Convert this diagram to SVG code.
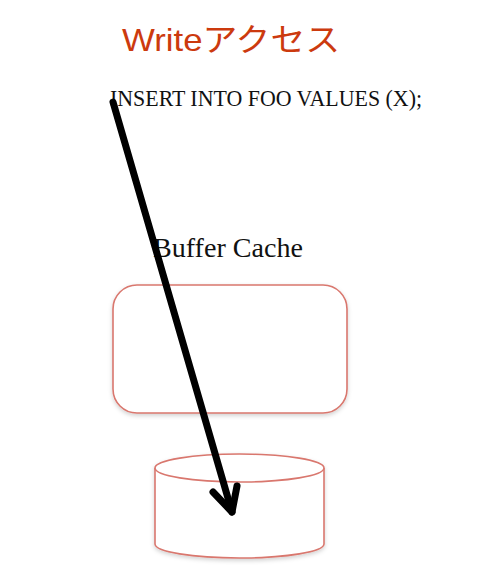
<svg xmlns="http://www.w3.org/2000/svg" width="489" height="583" viewBox="0 0 489 583">
<defs>
<style>
.serif{font-family:"Liberation Serif","DejaVu Serif",serif;fill:#111;}
.title{font-family:"Liberation Sans","Noto Sans CJK JP",sans-serif;fill:#cc3a0e;font-size:32px;}
.shape{fill:#fff;stroke:#d9776e;stroke-width:1.6;}
.arrow{fill:none;stroke:#000;stroke-width:7;stroke-linecap:round;stroke-linejoin:round;}
</style>
<filter id="sh" x="-10%" y="-10%" width="120%" height="130%">
<feDropShadow dx="0" dy="2" stdDeviation="2" flood-color="#000" flood-opacity="0.18"/>
</filter>
</defs>
<rect width="489" height="583" fill="#fff"/>
<g id="title"><text class="title" x="122" y="51" textLength="218" lengthAdjust="spacingAndGlyphs">Writeアクセス</text></g>
<g id="sql"><text class="serif" x="110" y="106" font-size="24" textLength="312" lengthAdjust="spacingAndGlyphs">INSERT INTO FOO VALUES (X);</text></g>
<g id="buffer-cache">
<text class="serif" x="153" y="257" font-size="27" textLength="150" lengthAdjust="spacingAndGlyphs">Buffer Cache</text>
<rect class="shape" x="113" y="285" width="234" height="128" rx="24" filter="url(#sh)"/>
</g>
<g id="disk" filter="url(#sh)">
<path class="shape" d="M155,468 L155,544 A84.5,14 0 0 0 324,544 L324,468"/>
<ellipse class="shape" cx="239.5" cy="468" rx="84.5" ry="14"/>
</g>
<g id="connectors">
<path class="arrow" d="M113,102 L232,512"/>
<path class="arrow" d="M213,492 L232,512 L237,486"/>
</g>
</svg>
